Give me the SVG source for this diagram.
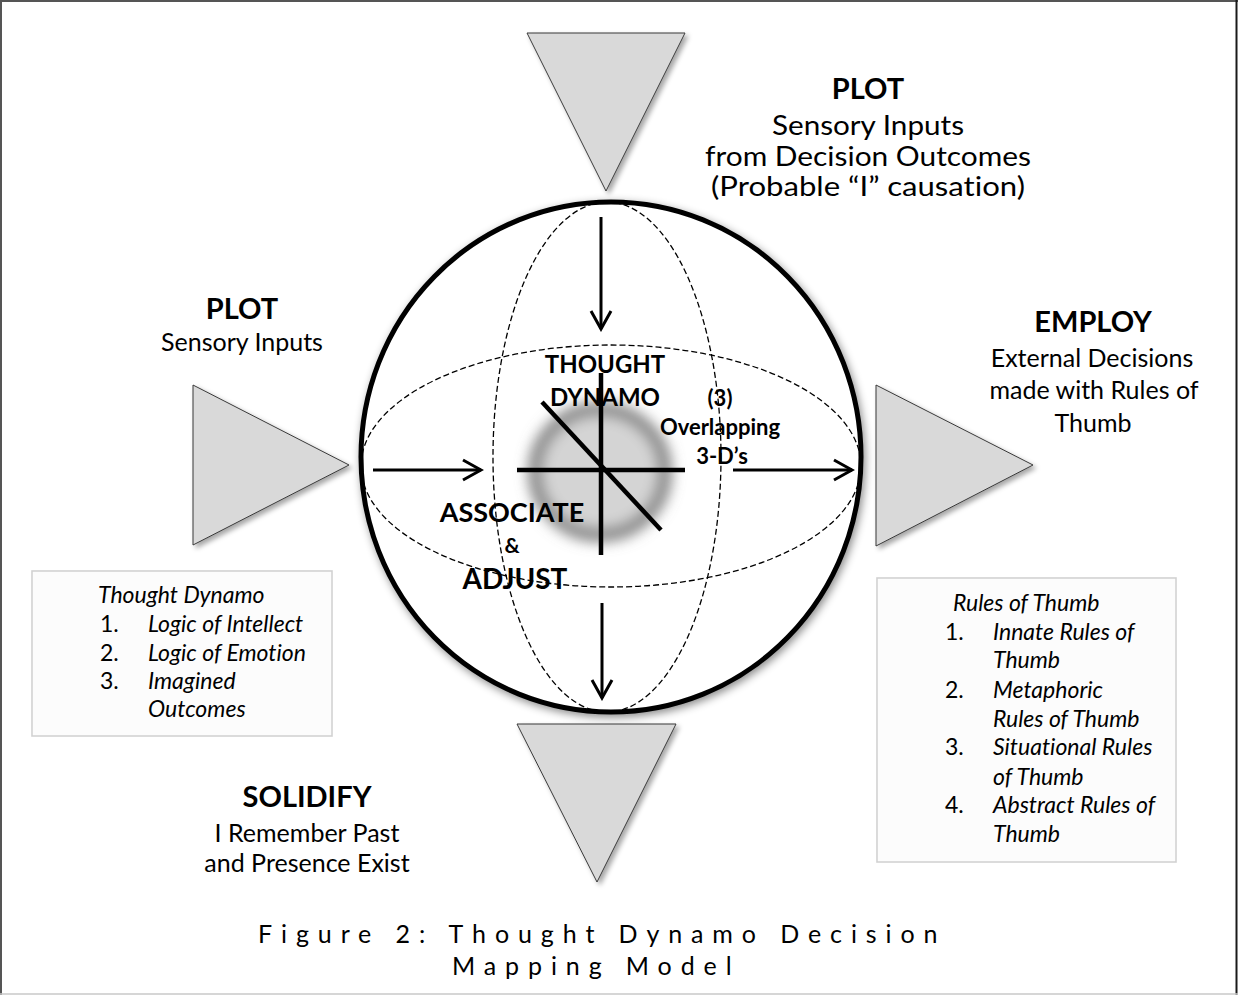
<svg xmlns="http://www.w3.org/2000/svg" width="1238" height="995" viewBox="0 0 1238 995">
<defs>
<style>
text{font-family:Lato,"Open Sans","Liberation Sans",sans-serif;fill:#000;font-variant-ligatures:none}
.t{font-weight:700}
.c{text-anchor:middle}
.it{font-style:italic;font-size:23px}
.num{font-size:23px}
.tri{fill:#d9d9d9;stroke:#3a3a3a;stroke-width:1}
.dash{fill:none;stroke:#000;stroke-width:1.3;stroke-dasharray:6 3}
.arrow{fill:none;stroke:#000;stroke-width:3;marker-end:url(#arr)}
.cross{stroke:#000;stroke-width:4.5;fill:none}
.box{fill:#fcfcfc;stroke:#d2d2d2;stroke-width:1.6}
</style>
<marker id="arr" viewBox="0 0 24 24" refX="21" refY="12" markerWidth="24" markerHeight="24" markerUnits="userSpaceOnUse" orient="auto">
<path d="M3,2 L21,12 L3,22" fill="none" stroke="#000" stroke-width="3"/>
</marker>
<filter id="sh" x="-20%" y="-20%" width="140%" height="140%">
<feDropShadow dx="3" dy="3" stdDeviation="2.5" flood-color="#000" flood-opacity="0.35"/>
</filter>
<filter id="csh" x="-10%" y="-10%" width="120%" height="120%">
<feDropShadow dx="2" dy="3" stdDeviation="4" flood-color="#000" flood-opacity="0.45"/>
</filter>
<filter id="glow" x="-50%" y="-50%" width="200%" height="200%">
<feGaussianBlur stdDeviation="7"/>
</filter>
</defs>

<g id="frame">
<rect x="0" y="0" width="1238" height="995" fill="#fff"/>
<line x1="0" y1="1" x2="1238" y2="1" stroke="#555" stroke-width="2"/>
<line x1="1" y1="0" x2="1" y2="995" stroke="#555" stroke-width="2"/>
<line x1="1236.5" y1="0" x2="1236.5" y2="995" stroke="#1a1a1a" stroke-width="2"/>
<line x1="0" y1="994" x2="1238" y2="994" stroke="#c8c8c8" stroke-width="1.6"/>
</g>

<g id="sphere">
<ellipse cx="611" cy="457" rx="250" ry="255" fill="#fff" stroke="#000" stroke-width="5" filter="url(#csh)"/>
<ellipse cx="600" cy="472" rx="65" ry="63" fill="#d4d4d4" stroke="#7a7a7a" stroke-width="13" filter="url(#glow)"/>
<ellipse class="dash" cx="611" cy="466" rx="250" ry="121"/>
<ellipse class="dash" cx="607" cy="457" rx="114" ry="255"/>
</g>

<g id="dynamo-cross">
<line class="cross" x1="517" y1="470" x2="685" y2="470"/>
<line class="cross" x1="601" y1="373" x2="601" y2="555"/>
<line class="cross" x1="542" y1="402" x2="661" y2="530"/>
</g>

<g id="triangle-top"><polygon class="tri" filter="url(#sh)" points="527,33 685,33 606,191"/></g>
<g id="triangle-left"><polygon class="tri" filter="url(#sh)" points="193,385 193,545 349,465"/></g>
<g id="triangle-right"><polygon class="tri" filter="url(#sh)" points="876,385 876,546 1033,465"/></g>
<g id="triangle-bottom"><polygon class="tri" filter="url(#sh)" points="517,724 676,724 597,882"/></g>

<g id="connectors">
<line class="arrow" x1="601" y1="217" x2="601" y2="329"/>
<line class="arrow" x1="373" y1="470" x2="481" y2="470"/>
<line class="arrow" x1="733" y1="470" x2="852" y2="470"/>
<line class="arrow" x1="602" y1="603" x2="602" y2="698"/>
</g>

<g id="center-labels">
<text class="t c" x="605" y="373" font-size="24">THOUGHT</text>
<text class="t c" x="605" y="406" font-size="24">DYNAMO</text>
<text class="t c" x="720" y="406" font-size="22">(3)</text>
<text class="t c" x="720" y="435" font-size="22">Overlapping</text>
<text class="t c" x="722" y="464" font-size="22">3-D’s</text>
<text class="t c" x="512" y="522" font-size="27">ASSOCIATE</text>
<text class="t c" x="512" y="553" font-size="21">&amp;</text>
<text class="t c" x="515" y="589" font-size="28">ADJUST</text>
</g>

<g id="label-plot-top">
<text class="t c" x="868" y="99" font-size="29">PLOT</text>
<text class="c" x="868" y="135" font-size="26" textLength="192" lengthAdjust="spacingAndGlyphs">Sensory Inputs</text>
<text class="c" x="868" y="166" font-size="26" textLength="326" lengthAdjust="spacingAndGlyphs">from Decision Outcomes</text>
<text class="c" x="868" y="196" font-size="26" textLength="314" lengthAdjust="spacingAndGlyphs">(Probable “I” causation)</text>
</g>

<g id="label-plot-left">
<text class="t c" x="242" y="319" font-size="29">PLOT</text>
<text class="c" x="242" y="351" font-size="25">Sensory Inputs</text>
</g>

<g id="label-employ">
<text class="t c" x="1093" y="332" font-size="29">EMPLOY</text>
<text class="c" x="1092" y="367" font-size="25">External Decisions</text>
<text class="c" x="1094" y="399" font-size="25">made with Rules of</text>
<text class="c" x="1093" y="432" font-size="25">Thumb</text>
</g>

<g id="label-solidify">
<text class="t c" x="307" y="807" font-size="29">SOLIDIFY</text>
<text class="c" x="307" y="842" font-size="25">I Remember Past</text>
<text class="c" x="307" y="872" font-size="25">and Presence Exist</text>
</g>

<g id="box-thought-dynamo">
<rect class="box" x="32" y="571" width="300" height="165"/>
<text class="it" x="98" y="603">Thought Dynamo</text>
<text class="num" x="100" y="632">1.</text><text class="it" x="148" y="632">Logic of Intellect</text>
<text class="num" x="100" y="661">2.</text><text class="it" x="148" y="661">Logic of Emotion</text>
<text class="num" x="100" y="689">3.</text><text class="it" x="148" y="689">Imagined</text>
<text class="it" x="148" y="717">Outcomes</text>
</g>

<g id="box-rules-of-thumb">
<rect class="box" x="877" y="578" width="299" height="284"/>
<text class="it" x="953" y="611">Rules of Thumb</text>
<text class="num" x="945" y="640">1.</text><text class="it" x="993" y="640">Innate Rules of</text>
<text class="it" x="993" y="668">Thumb</text>
<text class="num" x="945" y="698">2.</text><text class="it" x="993" y="698">Metaphoric</text>
<text class="it" x="993" y="727">Rules of Thumb</text>
<text class="num" x="945" y="755">3.</text><text class="it" x="993" y="755">Situational Rules</text>
<text class="it" x="993" y="785">of Thumb</text>
<text class="num" x="945" y="813">4.</text><text class="it" x="993" y="813">Abstract Rules of</text>
<text class="it" x="993" y="842">Thumb</text>
</g>

<g id="caption">
<text x="258" y="943" font-size="25" letter-spacing="8.9">Figure 2: Thought Dynamo Decision</text>
<text x="452" y="975" font-size="25" letter-spacing="8.9">Mapping Model</text>
</g>
</svg>
